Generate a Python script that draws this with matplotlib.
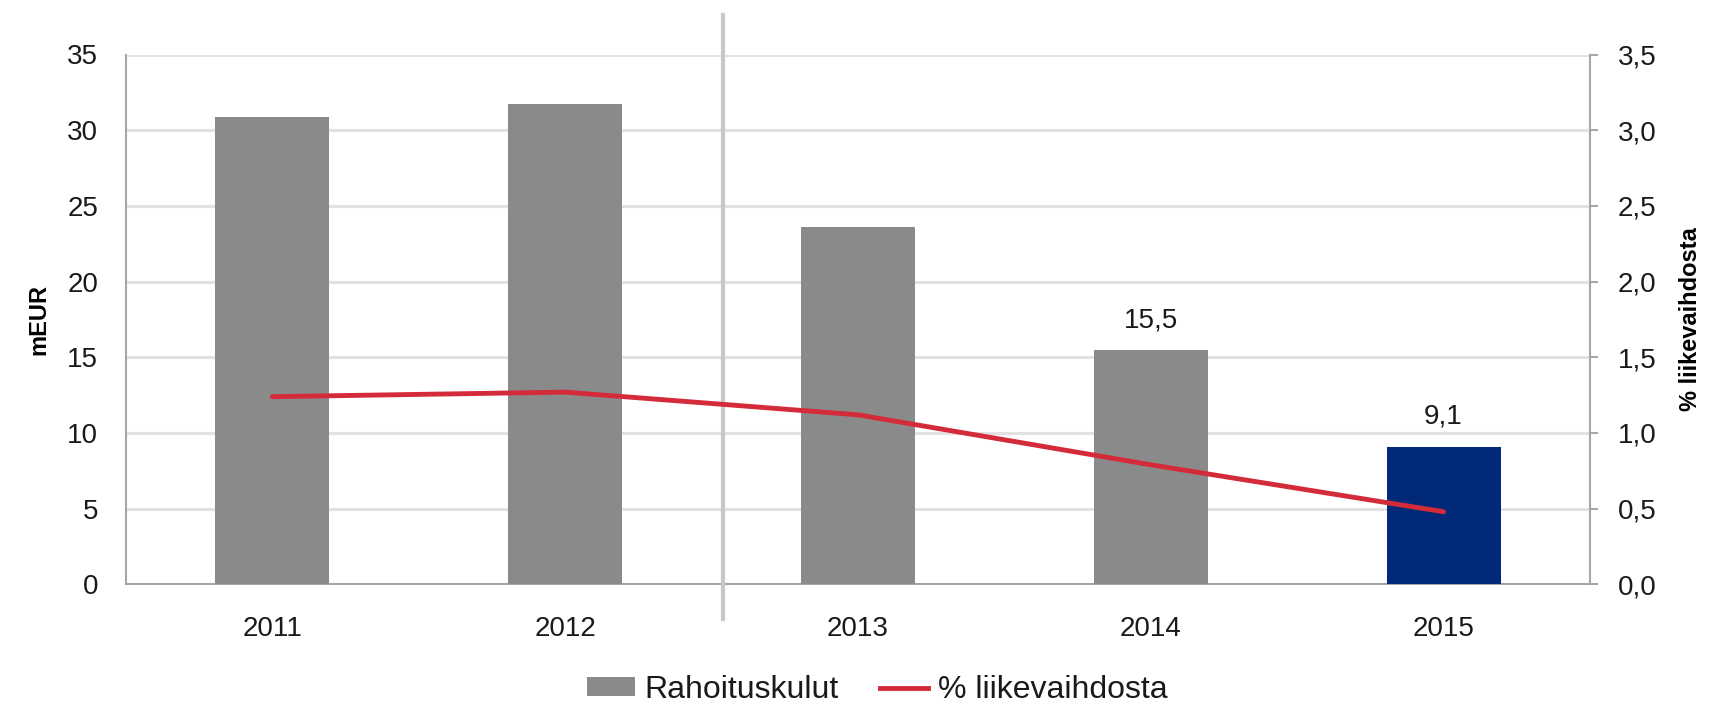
import matplotlib
matplotlib.use("Agg")
import matplotlib.pyplot as plt
from matplotlib import ticker
from matplotlib.patches import Patch
from matplotlib.lines import Line2D

plt.rcParams['font.family'] = ['Liberation Sans', 'DejaVu Sans']

years = ['2011', '2012', '2013', '2014', '2015']
costs = [30.9, 31.7, 23.6, 15.5, 9.1]
pct_of_sales = [1.24, 1.27, 1.12, 0.79, 0.48]
bar_labels = {3: '15,5', 4: '9,1'}

gray = '#8a8a8b'
navy = '#002a77'
red = '#d42b3a'
grid_col = '#e2e2e2'
spine_col = '#a6a6a6'
txt_col = '#1a1a1a'

fig = plt.figure(figsize=(17.13, 7.05), dpi=100)
ax = fig.add_axes([126 / 1713, 1 - 584.4 / 705, 1464 / 1713, 529.9 / 705])
ax2 = ax.twinx()

x = list(range(len(years)))
colors = [gray] * (len(years) - 1) + [navy]
ax.bar(x, costs, width=0.39, color=colors, zorder=3)
for i, txt in bar_labels.items():
    ax.annotate(txt, (i, costs[i]), xytext=(0, 12), textcoords='offset points',
                ha='center', va='bottom', fontsize=20, color=txt_col)

ax.set_xlim(-0.5, 4.5)
ax.set_ylim(0, 35)
ax.set_yticks(range(0, 36, 5))
ax.yaxis.grid(True, color=grid_col, linewidth=2.2, zorder=0)
ax.set_axisbelow(True)
ax.set_xticks(x)
ax.set_xticklabels(years)
ax.tick_params(axis='x', length=0, pad=23, labelsize=20, colors=txt_col)
ax.tick_params(axis='y', length=0, pad=20, labelsize=20, colors=txt_col)
ax.set_ylabel('mEUR', fontsize=17, fontweight='bold', labelpad=12)
for s in ['top', 'right']:
    ax.spines[s].set_visible(False)
for s in ['left', 'bottom']:
    ax.spines[s].set_color(spine_col)
    ax.spines[s].set_linewidth(1.5)

ax2.plot(x, pct_of_sales, color=red, linewidth=3.5, solid_capstyle='round', zorder=4)
ax2.set_ylim(0, 3.5)
ax2.set_yticks([i * 0.5 for i in range(8)])
ax2.yaxis.set_major_formatter(ticker.FuncFormatter(lambda v, p: f'{v:.1f}'.replace('.', ',')))
ax2.tick_params(axis='y', length=6, width=1.5, color=spine_col, pad=14, labelsize=20, labelcolor=txt_col)
ax2.set_ylabel('% liikevaihdosta', fontsize=17, fontweight='bold', labelpad=16)
for s in ['top', 'left', 'bottom']:
    ax2.spines[s].set_visible(False)
ax2.spines['right'].set_color(spine_col)
ax2.spines['right'].set_linewidth(1.5)

# separator between 2012 and 2013
ax.plot([1.54, 1.54], [-0.065, 1.0745], transform=ax.get_xaxis_transform(),
        color='#c8c8c8', linewidth=3, clip_on=False, zorder=5)

handles = [Patch(facecolor=gray, edgecolor='none'),
           Line2D([0], [0], color=red, linewidth=3.5)]
fig.legend(handles, ['Rahoituskulut', '% liikevaihdosta'], loc='center',
           bbox_to_anchor=(877 / 1713, 1 - 690 / 705), ncol=2, frameon=False,
           fontsize=23, handlelength=1.5, handleheight=0.55, handletextpad=0.3,
           columnspacing=1.3, labelcolor=txt_col)

fig.savefig('out.png', dpi=100)
